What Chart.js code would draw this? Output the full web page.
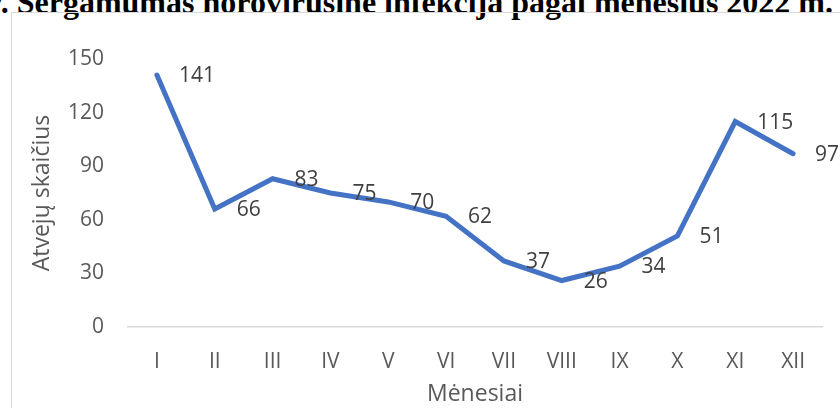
<!DOCTYPE html>
<html lang="lt">
<head>
<meta charset="utf-8">
<title>Sergamumas norovirusine infekcija</title>
<script src="https://cdn.jsdelivr.net/npm/chart.js@4/dist/chart.umd.min.js"></script>
<style>
  html, body { margin: 0; padding: 0; background: #fff; overflow: hidden; }
  #wrap { position: relative; width: 840px; height: 408px; overflow: hidden; }
  #title {
    position: absolute; right: 7px; top: -16px; line-height: 1;
    white-space: nowrap;
    font: bold 32px "Liberation Serif", "DejaVu Serif", serif; color: #000;
  }
  #frame {
    position: absolute; left: 11px; top: 12px; width: 860px; height: 420px;
    border: 1px solid #d9d9d9; box-sizing: border-box;
  }
  #chart { position: absolute; left: 0; top: 0; }
</style>
</head>
<body>
<div id="wrap">
  <div id="title">1 pav. Sergamumas norovirusine infekcija pagal mėnesius 2022 m.</div>
  <div id="frame"></div>
  <canvas id="chart" width="840" height="408"></canvas>
</div>
<script>
/* Duomenys */
var menesiai = ['I', 'II', 'III', 'IV', 'V', 'VI', 'VII', 'VIII', 'IX', 'X', 'XI', 'XII'];
var atvejai = [141, 66, 83, 75, 70, 62, 37, 26, 34, 51, 115, 97];
var yTicks = [0, 30, 60, 90, 120, 150];

var FONT = '"Open Sans", "Noto Sans", sans-serif';

// Reikšmių etiketės dešinėje nuo taško (kaip Excel)
var labelsPlugin = {
  id: 'pointLabels',
  afterDatasetsDraw: function (chart) {
    var ctx = chart.ctx;
    var meta = chart.getDatasetMeta(0);
    ctx.save();
    ctx.font = '21px ' + FONT;
    ctx.fillStyle = '#404040';
    ctx.textAlign = 'left';
    ctx.textBaseline = 'middle';
    meta.data.forEach(function (pt, i) {
      ctx.fillText(String(atvejai[i]), pt.x + 22, pt.y + 1);
    });
    ctx.restore();
  }
};

new Chart(document.getElementById('chart'), {
  type: 'line',
  data: {
    labels: menesiai,
    datasets: [{
      label: 'Atvejų skaičius',
      data: atvejai,
      borderColor: '#4472C4',
      borderWidth: 5,
      borderCapStyle: 'round',
      borderJoinStyle: 'miter',
      tension: 0,
      fill: false,
      pointRadius: 0,
      pointHoverRadius: 0
    }]
  },
  options: {
    responsive: false,
    animation: false,
    layout: { padding: { left: 20, top: 59, right: 18, bottom: 0 } },
    plugins: { legend: { display: false }, tooltip: { enabled: false } },
    scales: {
      x: {
        offset: true,
        grid: { display: false, drawTicks: false },
        border: { display: true, color: '#d9d9d9', width: 1.5 },
        ticks: { color: '#595959', font: { family: FONT, size: 21 }, padding: 22, autoSkip: false, maxRotation: 0 },
        title: { display: true, text: 'Mėnesiai', color: '#595959', font: { family: FONT, size: 23 }, padding: { top: 0, bottom: 0 } },
        afterFit: function (s) { s.height = 81; }
      },
      y: {
        min: 0,
        max: 150,
        afterBuildTicks: function (s) { s.ticks = yTicks.map(function (v) { return { value: v }; }); },
        grid: { display: false, drawTicks: false },
        border: { display: false },
        ticks: { color: '#595959', font: { family: FONT, size: 21 }, padding: 24 },
        title: { display: true, text: 'Atvejų skaičius', color: '#595959', font: { family: FONT, size: 23 }, padding: { top: 9, bottom: 0 } },
        afterFit: function (s) { s.width = 108; }
      }
    }
  },
  plugins: [labelsPlugin]
});
</script>
</body>
</html>
